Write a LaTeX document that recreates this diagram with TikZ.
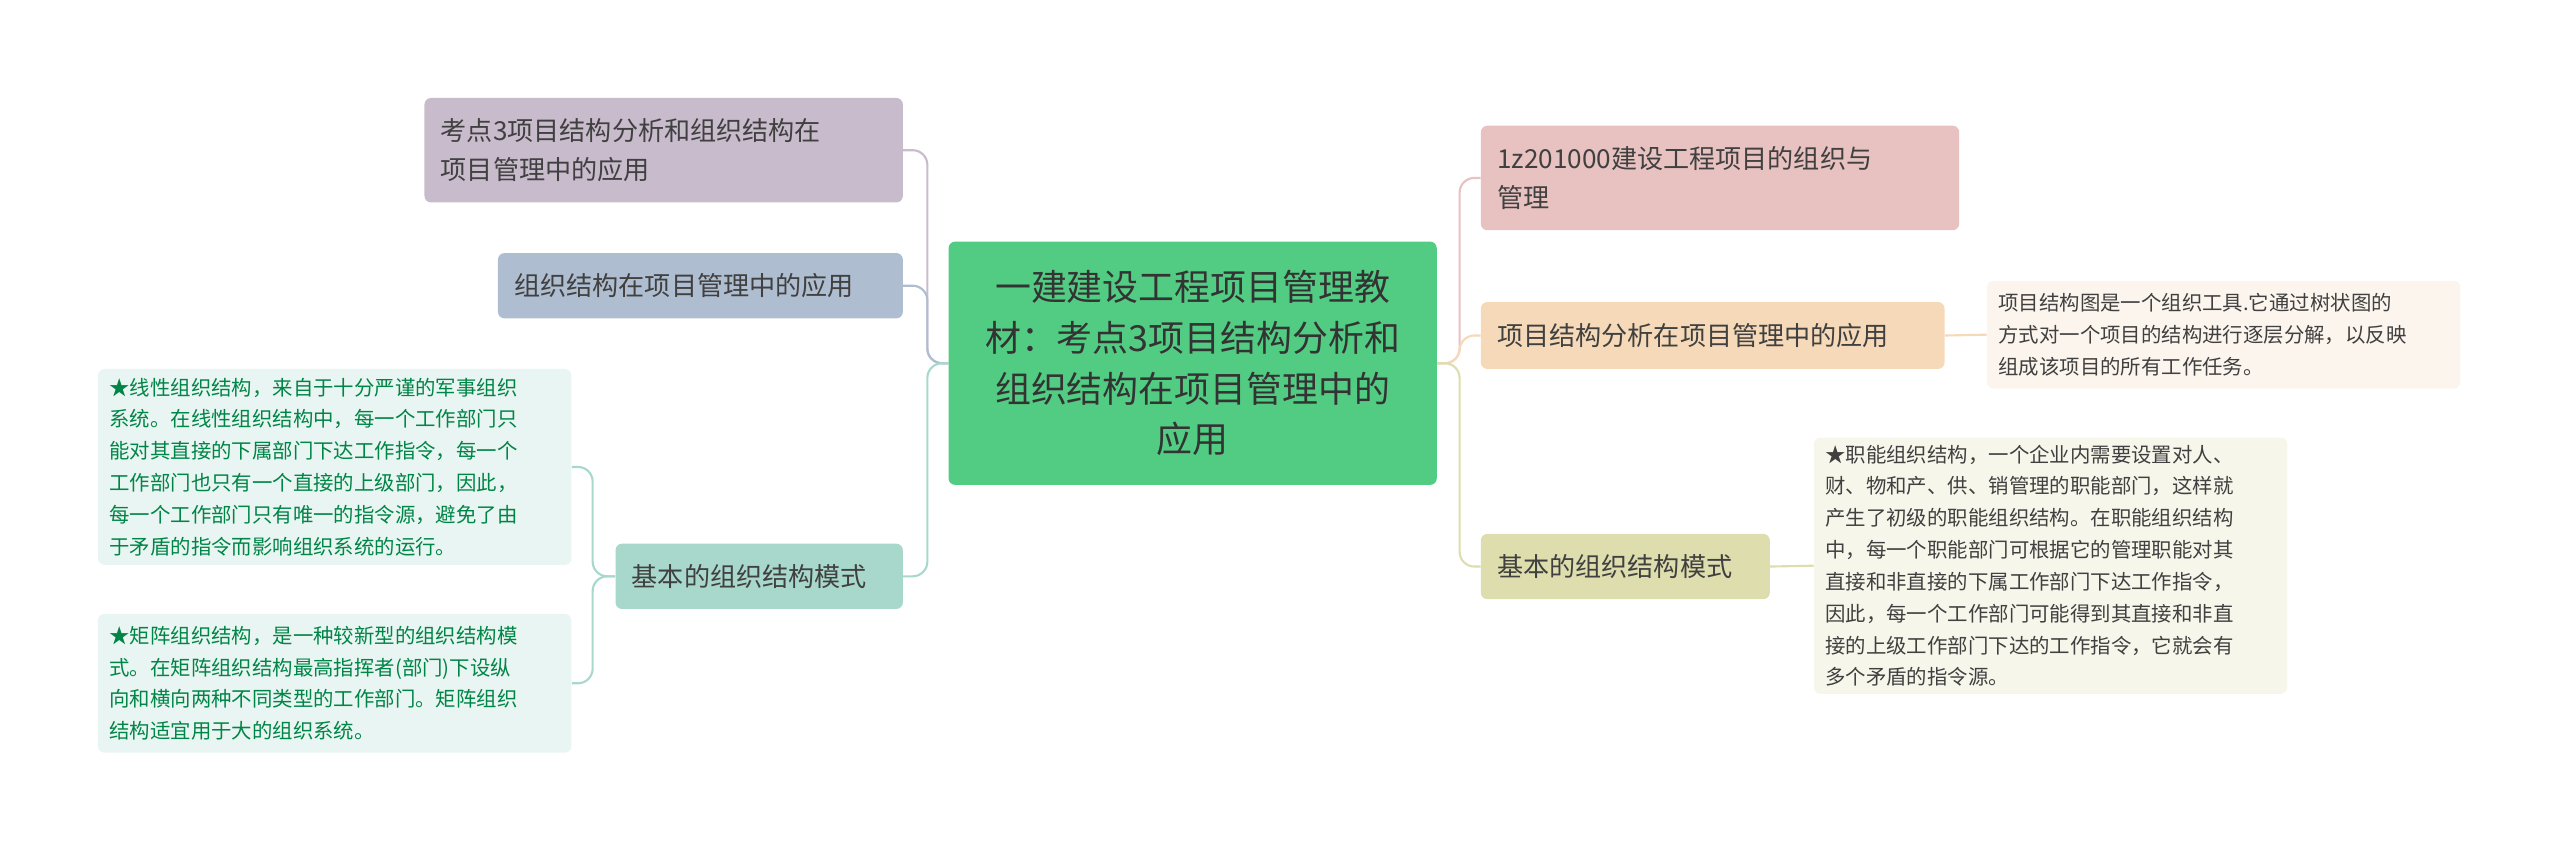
\documentclass[tikz,border=0pt]{standalone}
\usepackage{fontspec}
\setmainfont{Noto Sans CJK SC}
\begin{document}
\begin{tikzpicture}[x=1pt,y=-1pt,
 box/.style={rounded corners=4pt,inner sep=0pt,align=left,text=black!75,font=\fontsize{16}{24}\selectfont},
 leaf/.style={rounded corners=4pt,inner sep=0pt,align=left,font=\fontsize{12.5}{19.5}\selectfont},
 conn/.style={line width=1.3pt,rounded corners=9pt}]
\useasboundingbox (0,0) rectangle (1568,521);
\definecolor{cg}{HTML}{52CC82}
\definecolor{cl1}{HTML}{C8BBCC}
\definecolor{cl2}{HTML}{AEBDD0}
\definecolor{cl3}{HTML}{A8D8CC}
\definecolor{cr1}{HTML}{E8C2C0}
\definecolor{cr2}{HTML}{F5D9B8}
\definecolor{cr3}{HTML}{DDDDAE}
% center
\node[box,fill=cg,minimum width=299pt,minimum height=149pt,align=center,font=\fontsize{22}{31}\selectfont,text=black!80] (c) at (730.5,222.5) {一建建设工程项目管理教\\材：考点3项目结构分析和\\组织结构在项目管理中的\\应用};
% left
\node[box,fill=cl1,minimum width=293pt,minimum height=64pt,text width=273pt] (l1) at (406.5,92) {考点3项目结构分析和组织结构在\\项目管理中的应用};
\node[box,fill=cl2,minimum width=248pt,minimum height=40pt,text width=228pt] (l2) at (429,175) {组织结构在项目管理中的应用};
\node[box,fill=cl3,minimum width=176pt,minimum height=40pt,text width=156pt] (l3) at (465,353) {基本的组织结构模式};
\node[leaf,fill=cl3!25,text=teal!70!green!80!black,minimum width=290pt,minimum height=120pt,text width=276pt] (la) at (205,286) {★线性组织结构，来自于十分严谨的军事组织\\系统。在线性组织结构中，每一个工作部门只\\能对其直接的下属部门下达工作指令，每一个\\工作部门也只有一个直接的上级部门，因此，\\每一个工作部门只有唯一的指令源，避免了由\\于矛盾的指令而影响组织系统的运行。};
\node[leaf,fill=cl3!25,text=teal!70!green!80!black,minimum width=290pt,minimum height=85pt,text width=276pt] (lb) at (205,418.5) {★矩阵组织结构，是一种较新型的组织结构模\\式。在矩阵组织结构最高指挥者(部门)下设纵\\向和横向两种不同类型的工作部门。矩阵组织\\结构适宜用于大的组织系统。};
% right
\node[box,fill=cr1,minimum width=293pt,minimum height=64pt,text width=273pt] (r1) at (1053.5,109) {1z201000建设工程项目的组织与\\管理};
\node[box,fill=cr2,minimum width=284pt,minimum height=41pt,text width=264pt] (r2) at (1049,205.5) {项目结构分析在项目管理中的应用};
\node[box,fill=cr3,minimum width=177pt,minimum height=40pt,text width=157pt] (r3) at (995.5,347) {基本的组织结构模式};
\node[leaf,fill=cr2!25,text=black!75,minimum width=290pt,minimum height=66pt,text width=276pt] (ra) at (1362,205) {项目结构图是一个组织工具.它通过树状图的\\方式对一个项目的结构进行逐层分解，以反映\\组成该项目的所有工作任务。};
\node[leaf,fill=cr3!25,text=black!75,minimum width=290pt,minimum height=157pt,text width=276pt] (rb) at (1256,346.5) {★职能组织结构，一个企业内需要设置对人、\\财、物和产、供、销管理的职能部门，这样就\\产生了初级的职能组织结构。在职能组织结构\\中，每一个职能部门可根据它的管理职能对其\\直接和非直接的下属工作部门下达工作指令，\\因此，每一个工作部门可能得到其直接和非直\\接的上级工作部门下达的工作指令，它就会有\\多个矛盾的指令源。};
% connectors
\draw[conn,cl1] (c.west) -- (568,222.5) |- (l1.east);
\draw[conn,cl2] (c.west) -- (568,222.5) |- (l2.east);
\draw[conn,cl3] (c.west) -- (568,222.5) |- (l3.east);
\draw[conn,cr1] (c.east) -- (894,222.5) |- (r1.west);
\draw[conn,cr2] (c.east) -- (894,222.5) |- (r2.west);
\draw[conn,cr3] (c.east) -- (894,222.5) |- (r3.west);
\draw[conn,cl3] (l3.west) -- (363,353) |- (la.east);
\draw[conn,cl3] (l3.west) -- (363,353) |- (lb.east);
\draw[conn,cr2] (r2.east) -- (ra.west);
\draw[conn,cr3] (r3.east) -- (rb.west);
\end{tikzpicture}
\end{document}
